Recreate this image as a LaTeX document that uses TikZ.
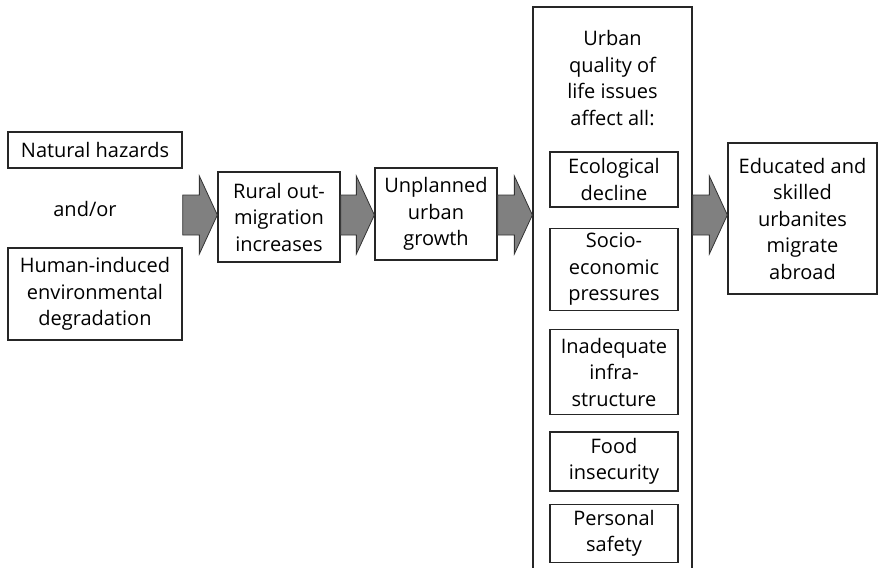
\documentclass[tikz,border=0pt]{standalone}
\usepackage{fontspec}
\setmainfont{Open Sans}
\usetikzlibrary{positioning, calc}

\newcommand{\flowarrow}[2]{%
  \draw[blockarrow] ($(#1.east|-axis)+(0,-20)$) -- ($(#2.west|-axis)+(-18,-20)$)
    -- ($(#2.west|-axis)+(-18,-39)$) -- (#2.west|-axis) -- ($(#2.west|-axis)+(-18,39)$)
    -- ($(#2.west|-axis)+(-18,20)$) -- ($(#1.east|-axis)+(0,20)$) -- cycle;}

\begin{document}
\begin{tikzpicture}[
        x=1pt, y=-1pt,
        every node/.style={font=\fontsize{20}{26.5}\selectfont, align=center, text=black, inner sep=2pt},
        box/.style={draw=black!85, line width=1.3pt, minimum width=#1},
        box/.default=122pt,
        subbox/.style={box=128pt},
        blockarrow/.style={draw=black!80, line width=0.8pt, fill=black!50}
    ]
        \useasboundingbox (0,0) rectangle (879,568);
        \coordinate (axis) at (0,215);

        \node[box=174pt, minimum height=36pt] (hazards) at (95,150) {Natural hazards};
        \node (andor) at (85,209) {and/or};
        \node[box=174pt, minimum height=92pt] (human) at (95,294) {Human-induced\\environmental\\degradation};
        \node[box, minimum height=90pt] (rural) at (279,217) {Rural out-\\migration\\increases};
        \node[box, minimum height=92pt] (unplanned) at (436,214) {Unplanned\\urban\\growth};

        % tall box runs past the lower edge of the page
        \node[box=159pt, minimum height=570pt] (quality) at (612.5,292) {};
        \node[below=22pt of quality.north] (qualtitle) {Urban\\quality of\\life issues\\affect all:};
        \node[subbox, minimum height=55pt] (ecology) at (614,179.5) {Ecological\\decline};
        \node[subbox, minimum height=82pt, below=20pt of ecology] (socio) {Socio-\\economic\\pressures};
        \node[subbox, minimum height=85pt, below=18pt of socio] (infra) {Inadequate\\infra-\\structure};
        \node[subbox, minimum height=59pt, below=16pt of infra] (food) {Food\\insecurity};
        \node[subbox, minimum height=58pt, below=12pt of food] (safety) {Personal\\safety};

        \node[box=149pt, minimum height=151pt] (abroad) at (802.5,218.5) {Educated and\\skilled\\urbanites\\migrate\\abroad};

        \flowarrow{hazards}{rural}
        \flowarrow{rural}{unplanned}
        \flowarrow{unplanned}{quality}
        \flowarrow{quality}{abroad}
    \end{tikzpicture}
\end{document}
